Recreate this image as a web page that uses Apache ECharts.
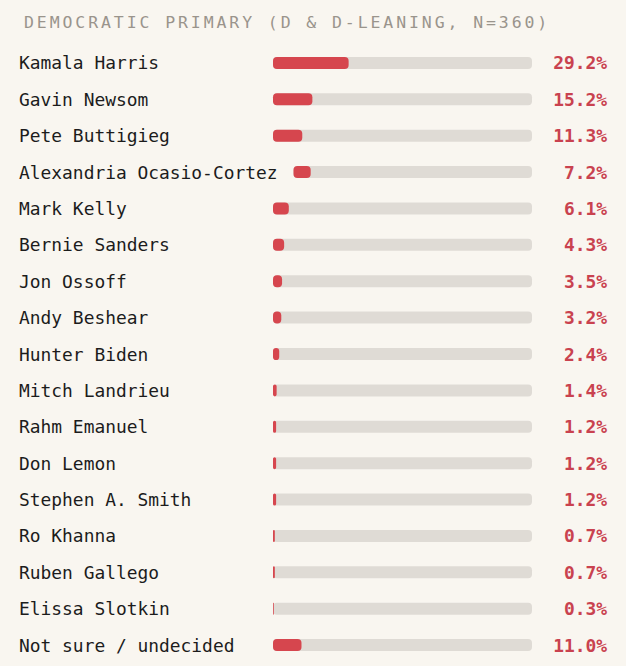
<!DOCTYPE html>
<html>
<head>
<meta charset="utf-8">
<script src="https://cdn.jsdelivr.net/npm/echarts@6/dist/echarts.min.js"></script>
<style>
  html, body { margin: 0; padding: 0; background: #f9f6f0; }
  #chart { width: 626px; height: 666px; }
</style>
</head>
<body>
<div id="chart"></div>
<script>
const titleText = 'DEMOCRATIC PRIMARY (D & D-LEANING, N=360)';
const categories = [
  'Kamala Harris', 'Gavin Newsom', 'Pete Buttigieg', 'Alexandria Ocasio-Cortez',
  'Mark Kelly', 'Bernie Sanders', 'Jon Ossoff', 'Andy Beshear', 'Hunter Biden',
  'Mitch Landrieu', 'Rahm Emanuel', 'Don Lemon', 'Stephen A. Smith', 'Ro Khanna',
  'Ruben Gallego', 'Elissa Slotkin', 'Not sure / undecided'
];
const values = [29.2, 15.2, 11.3, 7.2, 6.1, 4.3, 3.5, 3.2, 2.4, 1.4, 1.2, 1.2, 1.2, 0.7, 0.7, 0.3, 11.0];
const axisMin = 0;
const axisMax = 100;

const MONO = '"DejaVu Sans Mono", "Liberation Mono", monospace';
const LABEL_SIZE = 17.9;
const LEFT_PAD = 19;

const mctx = document.createElement('canvas').getContext('2d');
mctx.font = LABEL_SIZE + 'px ' + MONO;
const labelWidths = categories.map(c => mctx.measureText(c).width);

const chart = echarts.init(document.getElementById('chart'), null, { renderer: 'svg' });

const option = {
  backgroundColor: '#f9f6f0',
  animation: false,
  title: {
    text: titleText,
    left: LEFT_PAD,
    top: 9,
    textStyle: {
      fontFamily: MONO,
      fontSize: 16.5,
      fontWeight: 'normal',
      color: '#9a948c'
    }
  },
  grid: { left: 273, right: 94, top: 44.8, bottom: 2.8, containLabel: false },
  xAxis: { type: 'value', min: axisMin, max: axisMax, show: false },
  yAxis: {
    type: 'category',
    data: categories,
    inverse: true,
    axisLine: { show: false },
    axisTick: { show: false },
    splitLine: { show: false },
    axisLabel: {
      align: 'left',
      margin: 273 - LEFT_PAD,
      fontFamily: MONO,
      fontSize: LABEL_SIZE,
      color: '#1c1c1c'
    }
  },
  series: [{
    type: 'custom',
    data: values.map((v, i) => [v, i]),
    encode: { x: 0, y: 1 },
    renderItem: function (params, api) {
      const i = api.value(1);
      const v = api.value(0);
      const p0 = api.coord([axisMin, i]);
      const p1 = api.coord([axisMax, i]);
      const start = Math.max(p0[0], LEFT_PAD + labelWidths[i] + 16);
      const w = p1[0] - start;
      const fillW = (v - axisMin) / (axisMax - axisMin) * w;
      const h = 12;
      return {
        type: 'group',
        children: [
          { type: 'rect', shape: { x: start, y: p0[1] - h / 2, width: w, height: h, r: 4 },
            style: { fill: '#dfdbd5' } },
          { type: 'rect', shape: { x: start, y: p0[1] - h / 2, width: fillW, height: h, r: 4 },
            style: { fill: '#d6464e' } },
          { type: 'text', style: {
              x: api.getWidth() - LEFT_PAD, y: p0[1],
              text: v.toFixed(1) + '%',
              align: 'right', verticalAlign: 'middle',
              fontFamily: MONO, fontSize: LABEL_SIZE, fontWeight: 'bold',
              fill: '#c9424f'
            } }
        ]
      };
    }
  }]
};
chart.setOption(option);

function spaceTitle() {
  const texts = document.querySelectorAll('#chart svg text');
  texts.forEach(t => {
    if (t.textContent === titleText) {
      t.setAttribute('letter-spacing', '2.9px');
      t.style.letterSpacing = '2.9px';
    }
  });
}
spaceTitle();
chart.on('finished', spaceTitle);
</script>
</body>
</html>
